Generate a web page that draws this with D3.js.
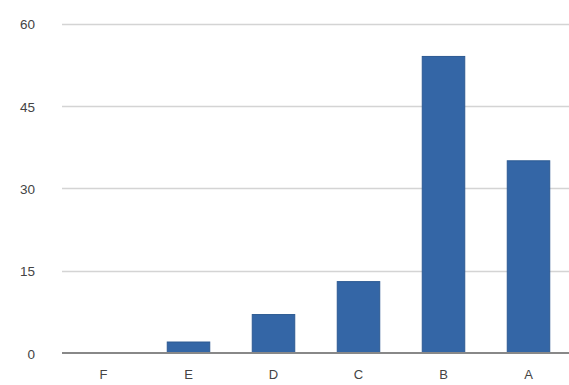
<!DOCTYPE html>
<html>
<head>
<meta charset="utf-8">
<script src="https://cdn.jsdelivr.net/npm/d3@7/dist/d3.min.js"></script>
<style>
  html, body { margin: 0; padding: 0; background: #fff; }
  svg { display: block; }
</style>
</head>
<body>
<svg id="chart" width="569" height="385"></svg>
<script>
// Categories along the x axis and their counts
const categories = ["F", "E", "D", "C", "B", "A"];
const values = [0, 2, 7, 13, 54, 35];
const yTicks = [0, 15, 30, 45, 60];

const width = 569, height = 385;
const margin = { top: 23.5, right: -2, bottom: 32, left: 61 };

const svg = d3.select("#chart");

const x = d3.scaleBand()
  .domain(categories)
  .range([margin.left, width - margin.right])
  .paddingInner(0.5)
  .paddingOuter(0.25);

const y = d3.scaleLinear()
  .domain([0, 60])
  .range([height - margin.bottom, margin.top]);

// Horizontal gridlines
svg.append("g")
  .selectAll("line")
  .data(yTicks.filter(d => d !== 0))
  .join("line")
  .attr("x1", 62)
  .attr("x2", width)
  .attr("y1", d => Math.round(y(d)) + 0.5)
  .attr("y2", d => Math.round(y(d)) + 0.5)
  .attr("stroke", "#d4d4d4")
  .attr("stroke-width", 1.5);

// Y axis labels
const yAxis = d3.axisLeft(y).tickValues(yTicks).tickSize(0).tickPadding(0);
svg.append("g")
  .attr("transform", "translate(35,1)")
  .call(yAxis)
  .call(g => g.select(".domain").remove())
  .call(g => g.selectAll("text")
    .attr("fill", "#444")
    .attr("font-family", "Arial, 'Liberation Sans', sans-serif")
    .attr("font-size", 13.5));

// Bars
svg.append("g")
  .selectAll("rect")
  .data(categories.map((c, i) => ({ c, v: values[i] })))
  .join("rect")
  .attr("x", d => x(d.c))
  .attr("width", x.bandwidth())
  .attr("y", d => y(d.v))
  .attr("height", d => y(0) - y(d.v))
  .attr("fill", "#3466a6")
  .attr("stroke", "#2c5a92")
  .attr("stroke-width", 1);

// Baseline
svg.append("line")
  .attr("x1", 62)
  .attr("x2", width)
  .attr("y1", y(0))
  .attr("y2", y(0))
  .attr("stroke", "#888")
  .attr("stroke-width", 2);

// X axis labels
const xAxis = d3.axisBottom(x).tickSize(0).tickPadding(0);
svg.append("g")
  .attr("transform", `translate(0,${y(0) + 21})`)
  .call(xAxis)
  .call(g => g.select(".domain").remove())
  .call(g => g.selectAll("text")
    .attr("dy", "0.35em")
    .attr("fill", "#444")
    .attr("font-family", "Arial, 'Liberation Sans', sans-serif")
    .attr("font-size", 13));
</script>
</body>
</html>
